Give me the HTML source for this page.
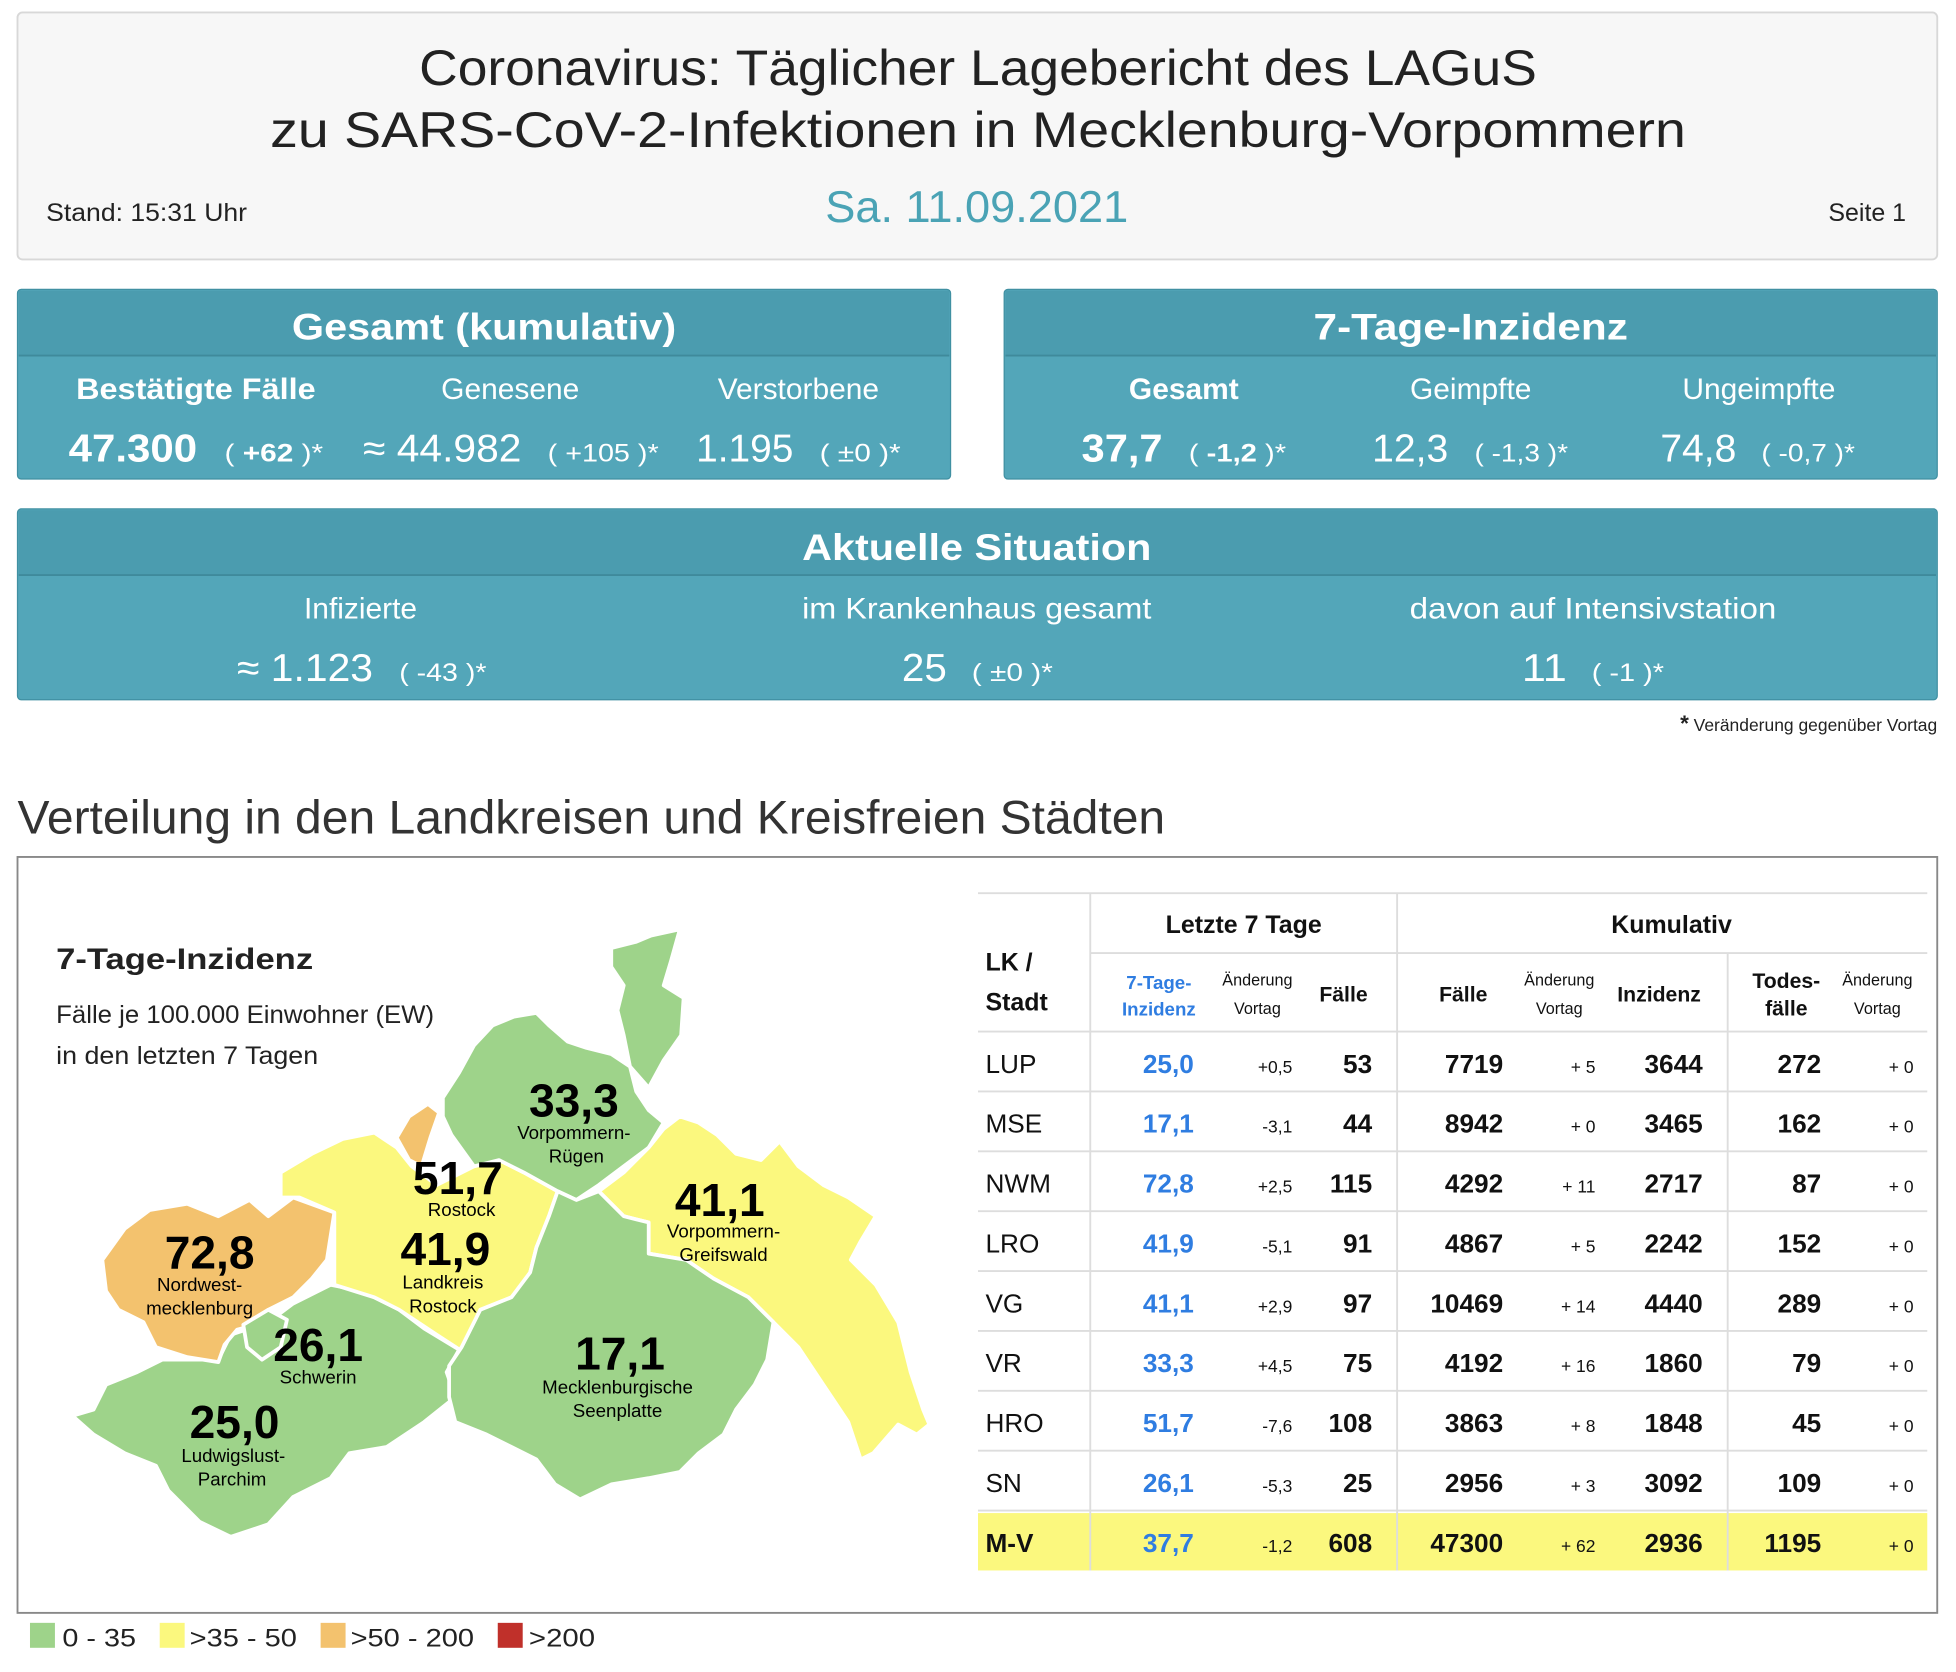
<!DOCTYPE html>
<html><head><meta charset="utf-8"><style>
html,body{margin:0;padding:0;background:#fff}
svg{display:block}
text{font-family:"Liberation Sans",sans-serif}
</style></head><body>
<svg width="1956" height="1672" viewBox="0 0 1568 1340.4" xmlns="http://www.w3.org/2000/svg">
<rect width="1568" height="1341" fill="#fff"/>
<rect x="14" y="10" width="1539" height="198" rx="4" fill="#f7f7f7" stroke="#d8d8d8" stroke-width="1.5"/>
<text x="784" y="68" font-size="40" fill="#222" text-anchor="middle" textLength="896" lengthAdjust="spacingAndGlyphs">Coronavirus: Täglicher Lagebericht des LAGuS</text>
<text x="784" y="118" font-size="40" fill="#222" text-anchor="middle" textLength="1135" lengthAdjust="spacingAndGlyphs">zu SARS-CoV-2-Infektionen in Mecklenburg-Vorpommern</text>
<text x="37" y="177" font-size="20" fill="#222" textLength="161" lengthAdjust="spacingAndGlyphs">Stand: 15:31 Uhr</text>
<text x="783" y="178" font-size="36" fill="#4aa3b5" text-anchor="middle" textLength="243" lengthAdjust="spacingAndGlyphs">Sa. 11.09.2021</text>
<text x="1528" y="177" font-size="20" fill="#222" text-anchor="end">Seite 1</text>

<g fill="#fff">
<rect x="14" y="232" width="748" height="152" rx="3" fill="#53a6b9" stroke="#4090a2"/>
<rect x="15" y="233" width="746" height="52" fill="#4b9caf"/>
<line x1="15" y1="285" x2="761" y2="285" stroke="#3f8a9b" stroke-width="1.5"/>
<text x="388" y="272" font-size="30" font-weight="bold" text-anchor="middle" textLength="308" lengthAdjust="spacingAndGlyphs">Gesamt (kumulativ)</text>
<text x="157" y="320" font-size="24" font-weight="bold" text-anchor="middle" textLength="192" lengthAdjust="spacingAndGlyphs">Bestätigte Fälle</text>
<text x="409" y="320" font-size="24" text-anchor="middle">Genesene</text>
<text x="640" y="320" font-size="24" text-anchor="middle">Verstorbene</text>
<text x="55" y="370" font-size="31" font-weight="bold" textLength="103" lengthAdjust="spacingAndGlyphs">47.300</text>
<text x="180" y="370" font-size="20" textLength="79" lengthAdjust="spacingAndGlyphs">( <tspan font-weight="bold">+62</tspan> )*</text>
<text x="291" y="370" font-size="31" textLength="127" lengthAdjust="spacingAndGlyphs">≈ 44.982</text>
<text x="439" y="370" font-size="20" textLength="89" lengthAdjust="spacingAndGlyphs">( +105 )*</text>
<text x="558" y="370" font-size="31" textLength="78" lengthAdjust="spacingAndGlyphs">1.195</text>
<text x="657" y="370" font-size="20" textLength="65" lengthAdjust="spacingAndGlyphs">( ±0 )*</text>
<rect x="805" y="232" width="748" height="152" rx="3" fill="#53a6b9" stroke="#4090a2"/>
<rect x="806" y="233" width="746" height="52" fill="#4b9caf"/>
<line x1="806" y1="285" x2="1552" y2="285" stroke="#3f8a9b" stroke-width="1.5"/>
<text x="1179" y="272" font-size="30" font-weight="bold" text-anchor="middle" textLength="252" lengthAdjust="spacingAndGlyphs">7-Tage-Inzidenz</text>
<text x="949" y="320" font-size="24" font-weight="bold" text-anchor="middle">Gesamt</text>
<text x="1179" y="320" font-size="24" text-anchor="middle">Geimpfte</text>
<text x="1410" y="320" font-size="24" text-anchor="middle">Ungeimpfte</text>
<text x="867" y="370" font-size="31" font-weight="bold" textLength="65" lengthAdjust="spacingAndGlyphs">37,7</text>
<text x="953" y="370" font-size="20" textLength="78" lengthAdjust="spacingAndGlyphs">( <tspan font-weight="bold">-1,2</tspan> )*</text>
<text x="1100" y="370" font-size="31" textLength="61" lengthAdjust="spacingAndGlyphs">12,3</text>
<text x="1182" y="370" font-size="20" textLength="75" lengthAdjust="spacingAndGlyphs">( -1,3 )*</text>
<text x="1331" y="370" font-size="31" textLength="61" lengthAdjust="spacingAndGlyphs">74,8</text>
<text x="1412" y="370" font-size="20" textLength="75" lengthAdjust="spacingAndGlyphs">( -0,7 )*</text>
<rect x="14" y="408" width="1539" height="153" rx="3" fill="#53a6b9" stroke="#4090a2"/>
<rect x="15" y="409" width="1537" height="52" fill="#4b9caf"/>
<line x1="15" y1="461" x2="1552" y2="461" stroke="#3f8a9b" stroke-width="1.5"/>
<text x="783" y="449" font-size="30" font-weight="bold" text-anchor="middle" textLength="280" lengthAdjust="spacingAndGlyphs">Aktuelle Situation</text>
<text x="289" y="496" font-size="24" text-anchor="middle">Infizierte</text>
<text x="783" y="496" font-size="24" text-anchor="middle" textLength="280" lengthAdjust="spacingAndGlyphs">im Krankenhaus gesamt</text>
<text x="1277" y="496" font-size="24" text-anchor="middle" textLength="294" lengthAdjust="spacingAndGlyphs">davon auf Intensivstation</text>
<text x="190" y="546" font-size="31" textLength="109" lengthAdjust="spacingAndGlyphs">≈ 1.123</text>
<text x="320" y="546" font-size="20" textLength="70" lengthAdjust="spacingAndGlyphs">( -43 )*</text>
<text x="723" y="546" font-size="31" textLength="36" lengthAdjust="spacingAndGlyphs">25</text>
<text x="779" y="546" font-size="20" textLength="65" lengthAdjust="spacingAndGlyphs">( ±0 )*</text>
<text x="1220" y="546" font-size="31" textLength="36" lengthAdjust="spacingAndGlyphs">11</text>
<text x="1276" y="546" font-size="20" textLength="58" lengthAdjust="spacingAndGlyphs">( -1 )*</text>
</g>
<text x="1553" y="586" font-size="14" fill="#222" text-anchor="end"><tspan font-size="18" font-weight="bold">*</tspan> Veränderung gegenüber Vortag</text>
<text x="14" y="668" font-size="38" fill="#333" textLength="920" lengthAdjust="spacingAndGlyphs">Verteilung in den Landkreisen und Kreisfreien Städten</text>

<rect x="14" y="687" width="1539" height="606" fill="#fff" stroke="#888" stroke-width="1.5"/>
<text x="45" y="777" font-size="24" font-weight="bold" fill="#222" textLength="206" lengthAdjust="spacingAndGlyphs">7-Tage-Inzidenz</text>
<text x="45" y="820" font-size="20" fill="#222" textLength="303" lengthAdjust="spacingAndGlyphs">Fälle je 100.000 Einwohner (EW)</text>
<text x="45" y="853" font-size="20" fill="#222" textLength="210" lengthAdjust="spacingAndGlyphs">in den letzten 7 Tagen</text>

<g stroke="#fff" stroke-width="3" stroke-linejoin="round">
<polygon fill="#9ed38a" points="58,1135 75,1130 85,1110 110,1100 130,1090 175,1090 185,1070 215,1060 235,1045 265,1030 290,1035 320,1050 340,1065 368,1082 358,1100 365,1120 340,1140 310,1160 280,1165 265,1185 235,1200 215,1222 185,1232 160,1220 135,1195 125,1175 100,1165 75,1150"/>
<polygon fill="#f3c26e" points="82,1010 100,985 120,970 150,965 175,975 200,962 215,975 235,960 268,972 262,1010 250,1025 235,1040 215,1050 205,1062 190,1066 180,1078 175,1092 150,1088 125,1080 115,1060 95,1050 85,1035"/>
<polygon fill="#9ed38a" points="195,1062 215,1050 230,1058 225,1080 210,1090 198,1080"/>
<polygon fill="#fbf87e" points="225,940 250,925 275,913 300,908 318,920 330,935 350,950 380,935 400,930 420,940 447,955 440,975 430,1000 425,1020 420,1030 410,1040 385,1050 380,1070 370,1083 350,1070 320,1050 300,1040 268,1030 268,972 240,960 225,960"/>
<polygon fill="#f3c26e" points="318,912 328,895 343,885 352,892 345,912 338,935 328,930"/>
<polygon fill="#9ed38a" points="355,880 368,860 380,838 395,822 412,815 430,812 440,822 455,835 470,840 490,845 505,855 510,875 520,890 532,900 520,920 500,935 480,950 462,962 447,955 420,940 400,930 380,935 362,910 355,895"/>
<polygon fill="#9ed38a" points="490,760 510,755 522,750 545,745 538,770 532,790 548,800 546,830 532,850 520,872 505,855 500,830 495,810 500,790 490,775"/>
<polygon fill="#fbf87e" points="480,955 500,940 520,920 532,905 545,895 560,900 575,910 590,925 610,930 625,915 640,935 660,950 680,960 702,975 690,995 682,1010 702,1030 720,1060 730,1100 740,1130 745,1142 735,1150 720,1142 700,1165 690,1170 680,1140 660,1110 640,1080 620,1060 600,1040 572,1025 550,1010 520,1005 520,980 500,975"/>
<polygon fill="#9ed38a" points="360,1095 370,1080 385,1050 410,1040 425,1020 430,1000 440,975 447,955 462,962 480,955 500,975 520,980 520,1005 550,1010 572,1025 600,1040 620,1060 615,1090 605,1110 590,1130 580,1150 560,1165 545,1180 520,1185 490,1190 465,1202 445,1190 430,1170 410,1160 390,1150 365,1140 360,1120"/>
</g>
<g font-weight="bold" text-anchor="middle" fill="#000" font-size="37">
<text x="460" y="895">33,3</text><text x="367" y="957">51,7</text><text x="357" y="1014">41,9</text>
<text x="577" y="975">41,1</text><text x="168" y="1017">72,8</text><text x="255" y="1091">26,1</text>
<text x="497" y="1098">17,1</text><text x="188" y="1153">25,0</text>
</g>
<g text-anchor="middle" fill="#000" font-size="15">
<text x="460" y="913">Vorpommern-</text><text x="462" y="932">Rügen</text>
<text x="370" y="975">Rostock</text>
<text x="355" y="1033">Landkreis</text><text x="355" y="1052">Rostock</text>
<text x="580" y="992">Vorpommern-</text><text x="580" y="1011">Greifswald</text>
<text x="160" y="1035">Nordwest-</text><text x="160" y="1054">mecklenburg</text>
<text x="255" y="1109">Schwerin</text>
<text x="495" y="1117">Mecklenburgische</text><text x="495" y="1136">Seenplatte</text>
<text x="187" y="1172">Ludwigslust-</text><text x="186" y="1191">Parchim</text>
</g>

<g font-size="20" fill="#222">
<rect x="24" y="1301" width="20" height="20" fill="#9ed38a"/><text x="50" y="1320" textLength="59" lengthAdjust="spacingAndGlyphs">0 - 35</text>
<rect x="128" y="1301" width="20" height="20" fill="#fbf87e"/><text x="152" y="1320" textLength="86" lengthAdjust="spacingAndGlyphs">&gt;35 - 50</text>
<rect x="257" y="1301" width="20" height="20" fill="#f3c26e"/><text x="281" y="1320" textLength="99" lengthAdjust="spacingAndGlyphs">&gt;50 - 200</text>
<rect x="399" y="1301" width="20" height="20" fill="#c0302a"/><text x="424" y="1320" textLength="53" lengthAdjust="spacingAndGlyphs">&gt;200</text>
</g>

<rect x="784" y="1213" width="761" height="46" fill="#fbf87e"/>
<g stroke="#ddd" stroke-width="1.5">
<line x1="784" y1="716" x2="1545" y2="716"/>
<line x1="874" y1="764" x2="1545" y2="764"/>
<line x1="784" y1="827" x2="1545" y2="827"/>
<line x1="784" y1="875" x2="1545" y2="875"/><line x1="784" y1="923" x2="1545" y2="923"/>
<line x1="784" y1="971" x2="1545" y2="971"/><line x1="784" y1="1019" x2="1545" y2="1019"/>
<line x1="784" y1="1067" x2="1545" y2="1067"/><line x1="784" y1="1115" x2="1545" y2="1115"/>
<line x1="784" y1="1163" x2="1545" y2="1163"/><line x1="784" y1="1211" x2="1545" y2="1211"/>
<line x1="874" y1="716" x2="874" y2="1259"/><line x1="1120" y1="716" x2="1120" y2="1259"/>
<line x1="1385" y1="764" x2="1385" y2="1259"/>
</g>
<g fill="#111">
<text x="997" y="748" font-size="20" font-weight="bold" text-anchor="middle">Letzte 7 Tage</text>
<text x="1340" y="748" font-size="20" font-weight="bold" text-anchor="middle">Kumulativ</text>
<text x="790" y="778" font-size="20" font-weight="bold">LK /</text>
<text x="790" y="810" font-size="20" font-weight="bold">Stadt</text>
<text x="929" y="793" font-size="15" font-weight="bold" fill="#2f7de1" text-anchor="middle">7-Tage-</text>
<text x="929" y="814" font-size="15" font-weight="bold" fill="#2f7de1" text-anchor="middle">Inzidenz</text>
<g font-size="13" text-anchor="middle">
<text x="1008" y="790">Änderung</text><text x="1008" y="813">Vortag</text>
<text x="1250" y="790">Änderung</text><text x="1250" y="813">Vortag</text>
<text x="1505" y="790">Änderung</text><text x="1505" y="813">Vortag</text>
</g>
<g font-size="17" font-weight="bold" text-anchor="middle">
<text x="1077" y="803">Fälle</text><text x="1173" y="803">Fälle</text><text x="1330" y="803">Inzidenz</text>
<text x="1432" y="792">Todes-</text><text x="1432" y="814">fälle</text>
</g>
</g>
<g fill="#111" font-size="21">
<g font-weight="normal">
<text x="790" y="860">LUP</text><text x="790" y="908">MSE</text><text x="790" y="956">NWM</text>
<text x="790" y="1004">LRO</text><text x="790" y="1052">VG</text><text x="790" y="1100">VR</text>
<text x="790" y="1148">HRO</text><text x="790" y="1196">SN</text>
<text x="790" y="1244" font-weight="bold">M-V</text>
</g>
<g font-weight="bold" fill="#2f7de1" text-anchor="end">
<text x="957" y="860">25,0</text><text x="957" y="908">17,1</text><text x="957" y="956">72,8</text>
<text x="957" y="1004">41,9</text><text x="957" y="1052">41,1</text><text x="957" y="1100">33,3</text>
<text x="957" y="1148">51,7</text><text x="957" y="1196">26,1</text><text x="957" y="1244">37,7</text>
</g>
<g font-size="14" text-anchor="end">
<text x="1036" y="860">+0,5</text><text x="1036" y="908">-3,1</text><text x="1036" y="956">+2,5</text>
<text x="1036" y="1004">-5,1</text><text x="1036" y="1052">+2,9</text><text x="1036" y="1100">+4,5</text>
<text x="1036" y="1148">-7,6</text><text x="1036" y="1196">-5,3</text><text x="1036" y="1244">-1,2</text>
<text x="1279" y="860">+ 5</text><text x="1279" y="908">+ 0</text><text x="1279" y="956">+ 11</text>
<text x="1279" y="1004">+ 5</text><text x="1279" y="1052">+ 14</text><text x="1279" y="1100">+ 16</text>
<text x="1279" y="1148">+ 8</text><text x="1279" y="1196">+ 3</text><text x="1279" y="1244">+ 62</text>
<text x="1534" y="860">+ 0</text><text x="1534" y="908">+ 0</text><text x="1534" y="956">+ 0</text>
<text x="1534" y="1004">+ 0</text><text x="1534" y="1052">+ 0</text><text x="1534" y="1100">+ 0</text>
<text x="1534" y="1148">+ 0</text><text x="1534" y="1196">+ 0</text><text x="1534" y="1244">+ 0</text>
</g>
<g font-weight="bold" text-anchor="end">
<text x="1100" y="860">53</text><text x="1100" y="908">44</text><text x="1100" y="956">115</text>
<text x="1100" y="1004">91</text><text x="1100" y="1052">97</text><text x="1100" y="1100">75</text>
<text x="1100" y="1148">108</text><text x="1100" y="1196">25</text><text x="1100" y="1244">608</text>
<text x="1205" y="860">7719</text><text x="1205" y="908">8942</text><text x="1205" y="956">4292</text>
<text x="1205" y="1004">4867</text><text x="1205" y="1052">10469</text><text x="1205" y="1100">4192</text>
<text x="1205" y="1148">3863</text><text x="1205" y="1196">2956</text><text x="1205" y="1244">47300</text>
<text x="1365" y="860">3644</text><text x="1365" y="908">3465</text><text x="1365" y="956">2717</text>
<text x="1365" y="1004">2242</text><text x="1365" y="1052">4440</text><text x="1365" y="1100">1860</text>
<text x="1365" y="1148">1848</text><text x="1365" y="1196">3092</text><text x="1365" y="1244">2936</text>
<text x="1460" y="860">272</text><text x="1460" y="908">162</text><text x="1460" y="956">87</text>
<text x="1460" y="1004">152</text><text x="1460" y="1052">289</text><text x="1460" y="1100">79</text>
<text x="1460" y="1148">45</text><text x="1460" y="1196">109</text><text x="1460" y="1244">1195</text>
</g>
</g>
</svg>
</body></html>
